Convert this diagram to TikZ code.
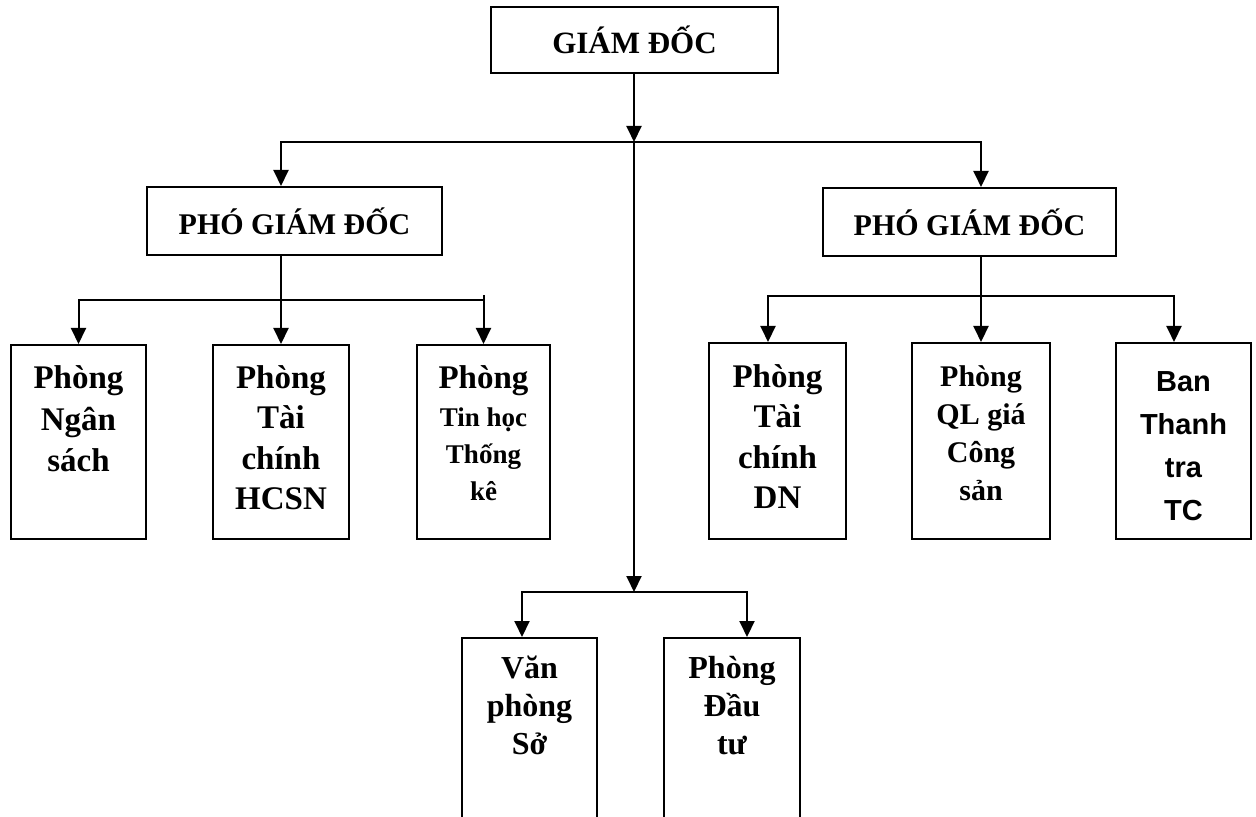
\documentclass[tikz,border=0pt]{standalone}
\usepackage{fontspec}
\setmainfont{Liberation Serif}
\newfontfamily\arialfont{Liberation Sans}
\usetikzlibrary{arrows.meta}

% top-aligned text inside a fixed box: width, height, first baseline, text
\newcommand{\boxtext}[4]{\parbox[c][#2][t]{#1}{\centering\rule{0pt}{#3}#4\par}}

\begin{document}
\begin{tikzpicture}[x=0.5pt, y=-0.5pt, >={Triangle[length=8pt, width=7.5pt]},
  head/.style={draw, line width=1pt, inner sep=0pt,
    font=\fontsize{15.5}{18}\selectfont\bfseries},
  unit/.style={draw, line width=1pt, inner sep=0pt,
    font=\fontsize{16.5}{20.5}\selectfont\bfseries},
  arrow/.style={->, line width=1pt},
  link/.style={line width=1pt}]

\useasboundingbox (0,0) rectangle (1256,817);
\clip (0,0) rectangle (1256,817);

% --- Giam doc ---
\node[head, minimum width=143.5pt, minimum height=33pt] (gd) at (634.5,40) {GIÁM ĐỐC};

% --- Pho giam doc ---
\node[head, font=\fontsize{15}{18}\selectfont\bfseries, minimum width=147.5pt, minimum height=34pt] (pgdA) at (294.5,221) {PHÓ GIÁM ĐỐC};
\node[head, font=\fontsize{15}{18}\selectfont\bfseries, minimum width=146.5pt, minimum height=34pt] (pgdB) at (969.5,222) {PHÓ GIÁM ĐỐC};

% --- Phong ban (left) ---
\node[unit] (ngansach) at (78.5,442) {\boxtext{67.5pt}{97pt}{22pt}{Phòng\\Ngân\\sách}};
\node[unit, font=\fontsize{16.5}{20}\selectfont\bfseries] (hcsn) at (281,442) {\boxtext{68pt}{97pt}{22pt}{Phòng\\Tài\\chính\\HCSN}};
\node[unit] (tinhoc) at (483.5,442) {\boxtext{66.5pt}{97pt}{22pt}{Phòng\\\fontsize{13.5}{18.5}\selectfont Tin học\\Thống\\kê}};

% --- Phong ban (right) ---
\node[unit, font=\fontsize{16.5}{20}\selectfont\bfseries] (tcdn) at (777.5,441) {\boxtext{68.5pt}{98pt}{22.5pt}{Phòng\\Tài\\chính\\DN}};
\node[unit, font=\fontsize{15}{19}\selectfont\bfseries] (qlgia) at (981,441) {\boxtext{69pt}{98pt}{21.5pt}{Phòng\\QL giá\\Công\\sản}};
\node[unit, font=\fontsize{14.5}{21.5}\selectfont\arialfont\bfseries] (thanhtra) at (1183.5,441) {\boxtext{67.5pt}{98pt}{24pt}{Ban\\Thanh\\tra\\TC}};

% --- Van phong, Dau tu ---
\node[unit, font=\fontsize{16}{19}\selectfont\bfseries] (vanphong) at (529.5,739) {\boxtext{67.5pt}{101pt}{20pt}{Văn\\phòng\\Sở}};
\node[unit, font=\fontsize{16}{19}\selectfont\bfseries] (dautu) at (732,739) {\boxtext{68pt}{101pt}{20pt}{Phòng\\Đầu\\tư}};

% --- Junctions ---
\coordinate (jtop) at (634,142);
\coordinate (jmid) at (634,592);
\coordinate (lbar) at (0,300);
\coordinate (rA) at (768,296);
\coordinate (rC) at (1174,296);
\coordinate (bA) at (522,592);
\coordinate (bB) at (747,592);

% --- Giam doc to pho giam doc ---
\draw[arrow] (gd.south -| jtop) -- (jtop);
\draw[arrow] (jtop) -| (hcsn.north |- pgdA.north);
\draw[arrow] (jtop) -| (qlgia.north |- pgdB.north);
\draw[arrow] (jtop) -- (jmid);

% --- Left branch ---
\draw[arrow] (hcsn.north |- pgdA.south) -- (hcsn.north);
\draw[arrow] (hcsn.north |- lbar) -| (ngansach.north);
\draw[arrow] (hcsn.north |- lbar) -| (tinhoc.north);
\draw[link] (tinhoc.north |- lbar) -- ++(0,-5);

% --- Right branch ---
\draw[arrow] (qlgia.north |- pgdB.south) -- (qlgia.north);
\draw[arrow] (qlgia.north |- rA) -- (rA) -- (rA |- tcdn.north);
\draw[arrow] (qlgia.north |- rC) -- (rC) -- (rC |- thanhtra.north);

% --- Middle branch ---
\draw[arrow] (jmid) -- (bA) -- (bA |- vanphong.north);
\draw[arrow] (jmid) -- (bB) -- (bB |- dautu.north);

\end{tikzpicture}
\end{document}
